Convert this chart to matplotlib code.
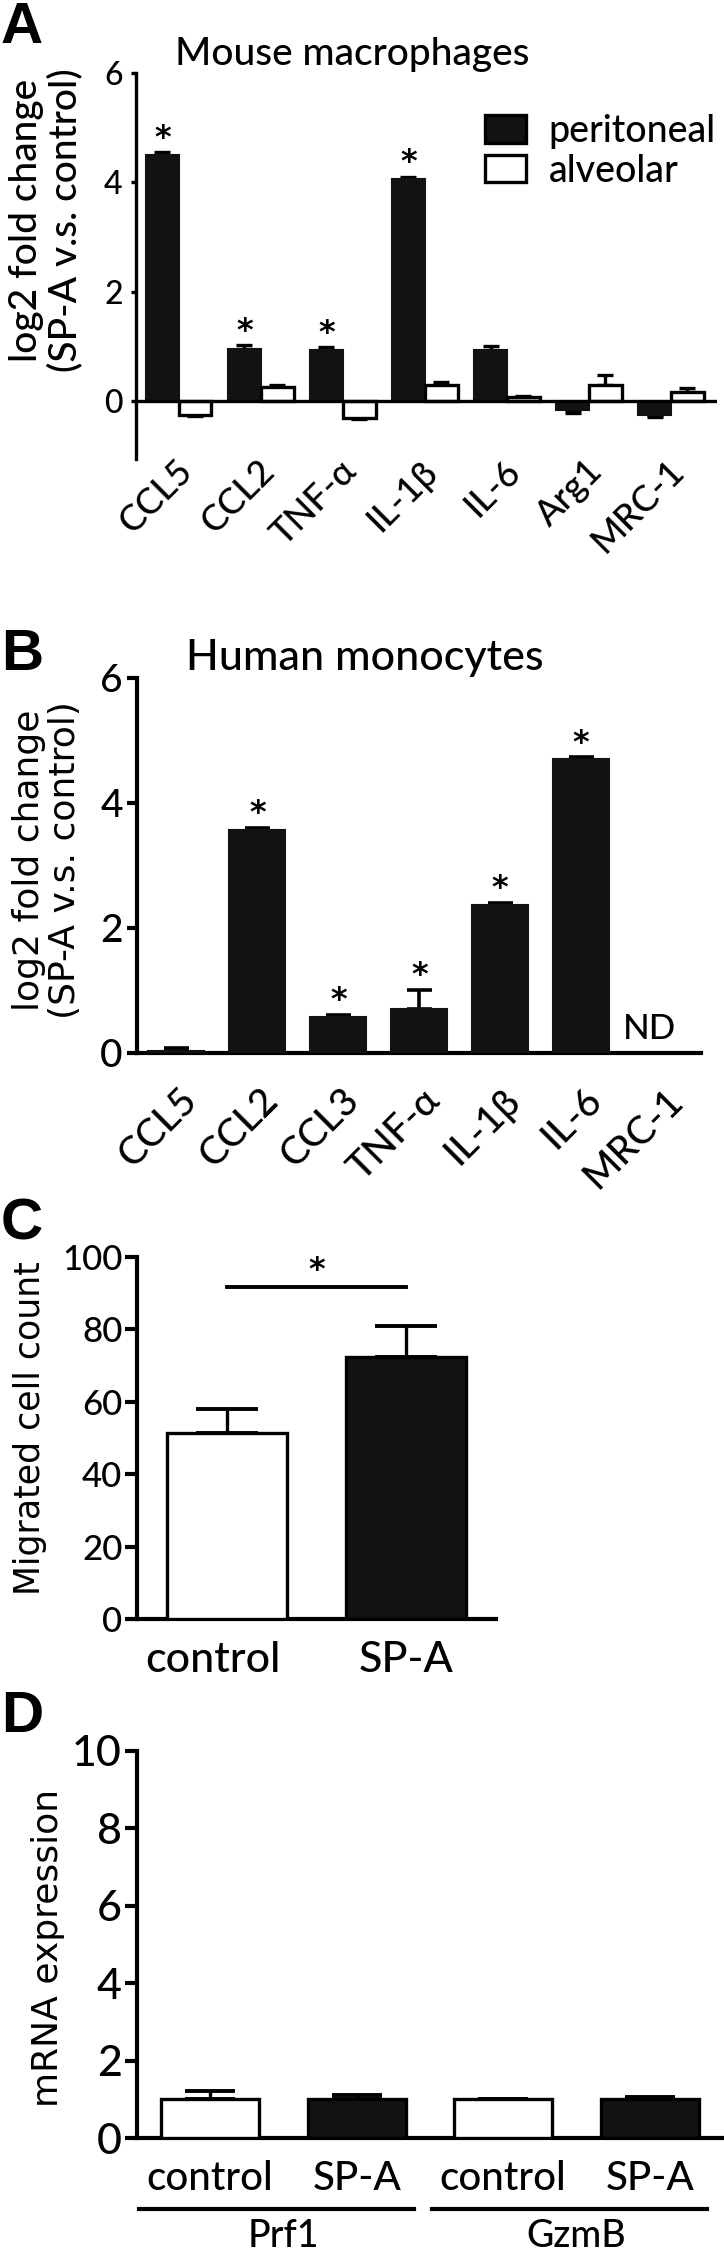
import numpy as np
import matplotlib
matplotlib.use("Agg")
import matplotlib.pyplot as plt
from matplotlib.patches import Patch
from matplotlib.transforms import blended_transform_factory, ScaledTranslation

plt.rcParams['font.family'] = ['Lato', 'DejaVu Sans']
plt.rcParams['font.weight'] = 'medium'

W, H, DPI = 724, 2255, 100
BLACK = '#121212'

# ---- panel A: mouse macrophages, log2 fold change ----
a_genes = ["CCL5", "CCL2", "TNF-\u03b1", "IL-1\u03b2", "IL-6", "Arg1", "MRC-1"]
a_perit = [4.50, 0.96, 0.94, 4.05, 0.94, -0.17, -0.26]
a_perit_err = [0.05, 0.06, 0.04, 0.05, 0.06, 0.04, 0.03]
a_alv = [-0.25, 0.26, -0.30, 0.29, 0.08, 0.30, 0.16]
a_alv_err = [0.02, 0.03, 0.02, 0.06, 0.02, 0.17, 0.08]
a_sig = [True, True, True, True, False, False, False]

# ---- panel B: human monocytes ----
b_genes = ["CCL5", "CCL2", "CCL3", "TNF-\u03b1", "IL-1\u03b2", "IL-6", "MRC-1"]
b_vals = [0.03, 3.57, 0.58, 0.70, 2.37, 4.70, np.nan]
b_err = [0.05, 0.03, 0.03, 0.31, 0.03, 0.03, np.nan]
b_sig = [False, True, True, True, True, True, False]

# ---- panel C: migration ----
c_groups = ["control", "SP-A"]
c_vals = [51.3, 72.4]
c_err = [6.6, 8.5]
c_sig_y = 91.7

# ---- panel D: mRNA expression ----
d_genes = ["Prf1", "GzmB"]
d_treat = ["control", "SP-A", "control", "SP-A"]
d_vals = [1.0, 1.0, 1.0, 1.0]
d_err = [0.22, 0.12, 0.0, 0.05]

fig = plt.figure(figsize=(W / DPI, H / DPI), dpi=DPI)


def px_axes(x0, x1, y_top, y_bot):
    return fig.add_axes([x0 / W, 1 - y_bot / H, (x1 - x0) / W, (y_bot - y_top) / H])


def fxy(x, y):
    return x / W, 1 - y / H


def shift(label, dx_px):
    label.set_transform(label.get_transform() + ScaledTranslation(dx_px / DPI, 0, fig.dpi_scale_trans))


def prism_style(ax, lw, tick_fs, tick_len, tick_pad, bottom=False):
    for side in ('top', 'right'):
        ax.spines[side].set_visible(False)
    ax.spines['bottom'].set_visible(bottom)
    ax.spines['left'].set_linewidth(lw)
    ax.spines['bottom'].set_linewidth(lw)
    ax.tick_params(axis='y', direction='out', width=lw, length=tick_len,
                   pad=tick_pad, labelsize=tick_fs)
    ax.tick_params(axis='x', length=0)


def one_sided(vals, errs):
    vals = np.nan_to_num(np.asarray(vals, float))
    errs = np.nan_to_num(np.asarray(errs, float))
    return np.vstack([np.where(vals < 0, errs, 0), np.where(vals >= 0, errs, 0)])


def star(ax, x, y, off=4):
    ax.annotate('*', xy=(x, y), xytext=(0, off), textcoords='offset points',
                ha='center', va='baseline', fontsize=23, fontweight='bold',
                family='DejaVu Sans')


# ================= A =================
axA = px_axes(136, 717, 72.7, 458.6)
prism_style(axA, 2.4, 23, 3.6, 6)
xA = np.arange(len(a_genes))
bw = 0.4
axA.bar(xA - bw / 2, a_perit, bw, color=BLACK, edgecolor=BLACK, linewidth=1.5, zorder=3)
axA.bar(xA + bw / 2, a_alv, bw, color='white', edgecolor='k', linewidth=2.4, zorder=3)
axA.errorbar(xA - bw / 2, a_perit, yerr=one_sided(a_perit, a_perit_err), fmt='none',
             ecolor='k', elinewidth=2.4, capsize=5.5, capthick=2.4, zorder=2)
axA.errorbar(xA + bw / 2, a_alv, yerr=one_sided(a_alv, a_alv_err), fmt='none',
             ecolor='k', elinewidth=2.4, capsize=5.5, capthick=2.4, zorder=2)
axA.axhline(0, color='k', lw=2.4, zorder=4)
axA.set_xlim(-0.52, 6.56)
axA.set_ylim(-1.05, 6)
axA.set_yticks([0, 2, 4, 6])
axA.set_xticks(xA, a_genes, rotation=45, ha='right', va='center',
               rotation_mode='anchor', fontsize=26)
axA.tick_params(axis='x', pad=5)
for lab in axA.get_xticklabels():
    shift(lab, 8)
for xi, v, e, s in zip(xA - bw / 2, a_perit, a_perit_err, a_sig):
    if s:
        star(axA, xi, v + e)
fig.legend([Patch(facecolor=BLACK, edgecolor='k', linewidth=2.4),
            Patch(facecolor='white', edgecolor='k', linewidth=2.4)],
           ['peritoneal', 'alveolar'], loc='upper left',
           bbox_to_anchor=fxy(485, 114), frameon=False, fontsize=27,
           handlelength=1.1, handleheight=0.75, handletextpad=0.6,
           labelspacing=0.12, borderpad=0, borderaxespad=0)
fig.text(*fxy(352, 65), "Mouse macrophages", ha='center', va='baseline', fontsize=28)
fig.text(*fxy(46, 220), "log2 fold change\n(SP-A v.s. control)", rotation=90,
         ha='center', va='center', multialignment='center', fontsize=28,
         linespacing=1.1)

# ================= B =================
axB = px_axes(136.7, 701, 678, 1053)
prism_style(axB, 3.0, 28, 7.5, 2.5, bottom=True)
xB = np.arange(len(b_genes))
axB.bar(xB, b_vals, 0.69, color=BLACK, edgecolor=BLACK, linewidth=1.5, zorder=3)
axB.errorbar(xB, np.nan_to_num(b_vals), yerr=one_sided(b_vals, b_err), fmt='none',
             ecolor='k', elinewidth=2.6, capsize=9, capthick=2.6, zorder=2)
axB.set_xlim(-0.49, 6.48)
axB.set_ylim(0, 6)
axB.set_yticks([0, 2, 4, 6])
axB.set_xticks(xB, b_genes, rotation=45, ha='right', va='center',
               rotation_mode='anchor', fontsize=28)
axB.tick_params(axis='x', pad=30)
for lab in axB.get_xticklabels():
    shift(lab, 15)
for xi, v, e, s in zip(xB, b_vals, b_err, b_sig):
    if s:
        star(axB, xi, v + e)
axB.text(5.84, 0.38, "ND", ha='center', va='center', fontsize=25)
fig.text(*fxy(365, 670), "Human monocytes", ha='center', va='baseline', fontsize=31)
fig.text(*fxy(47, 860), "log2 fold change\n(SP-A v.s. control)", rotation=90,
         ha='center', va='center', multialignment='center', fontsize=26,
         family='DejaVu Sans', linespacing=1.1)

# ================= C =================
axC = px_axes(137, 496, 1257, 1619)
prism_style(axC, 3.0, 25, 8.5, 2, bottom=True)
xC = np.arange(len(c_groups))
axC.bar(xC, c_vals, 0.67, color=['white', BLACK], edgecolor='k', linewidth=2.4, zorder=3)
axC.errorbar(xC, c_vals, yerr=one_sided(c_vals, c_err), fmt='none', ecolor='k',
             elinewidth=2.4, capsize=22, capthick=2.8, zorder=2)
axC.set_xlim(-0.5, 1.5)
axC.set_ylim(0, 100)
axC.set_yticks(np.arange(0, 101, 20))
axC.set_xticks(xC, c_groups, va='center', fontsize=31)
axC.tick_params(axis='x', pad=29.5)
shift(axC.get_xticklabels()[0], -14)
axC.plot(xC, [c_sig_y] * len(xC), color='k', lw=2.8, clip_on=False)
star(axC, xC.mean(), c_sig_y, off=6)
fig.text(*fxy(30, 1428), "Migrated cell count", rotation=90, ha='center', va='center',
         fontsize=25, family='DejaVu Sans')

# ================= D =================
axD = px_axes(137, 723, 1751, 2138)
prism_style(axD, 3.0, 31, 8.5, 2.5, bottom=True)
xD = np.arange(len(d_treat))
axD.bar(xD, d_vals, 0.67, color=['white', BLACK, 'white', BLACK], edgecolor='k',
        linewidth=2.4, zorder=3)
axD.errorbar(xD, d_vals, yerr=one_sided(d_vals, d_err), fmt='none', ecolor='k',
             elinewidth=2.4, capsize=18, capthick=2.8, zorder=2)
axD.set_xlim(-0.5, 3.5)
axD.set_ylim(0, 10)
axD.set_yticks(np.arange(0, 11, 2))
axD.set_xticks(xD, d_treat, va='center', fontsize=29)
axD.tick_params(axis='x', pad=29)
trD = blended_transform_factory(axD.transData, axD.transAxes)
for gi, gene in enumerate(d_genes):
    x0, x1 = 2 * gi - 0.485, 2 * gi + 1.39
    axD.plot([x0, x1], [-0.1835, -0.1835], color='k', lw=3, transform=trD, clip_on=False)
    axD.text(2 * gi + 0.5, -0.255, gene, transform=trD, ha='center', va='center', fontsize=27)
fig.text(*fxy(48, 1948), "mRNA expression", rotation=90, ha='center', va='center',
         fontsize=26, family='DejaVu Sans')

# panel letters
for letter, top in zip("ABCD", [1, 628, 1198, 1690]):
    fig.text(*fxy(1, top), letter, ha='left', va='top', fontsize=42,
             fontweight='bold', family='Liberation Sans')

fig.savefig("out.png", dpi=DPI)
